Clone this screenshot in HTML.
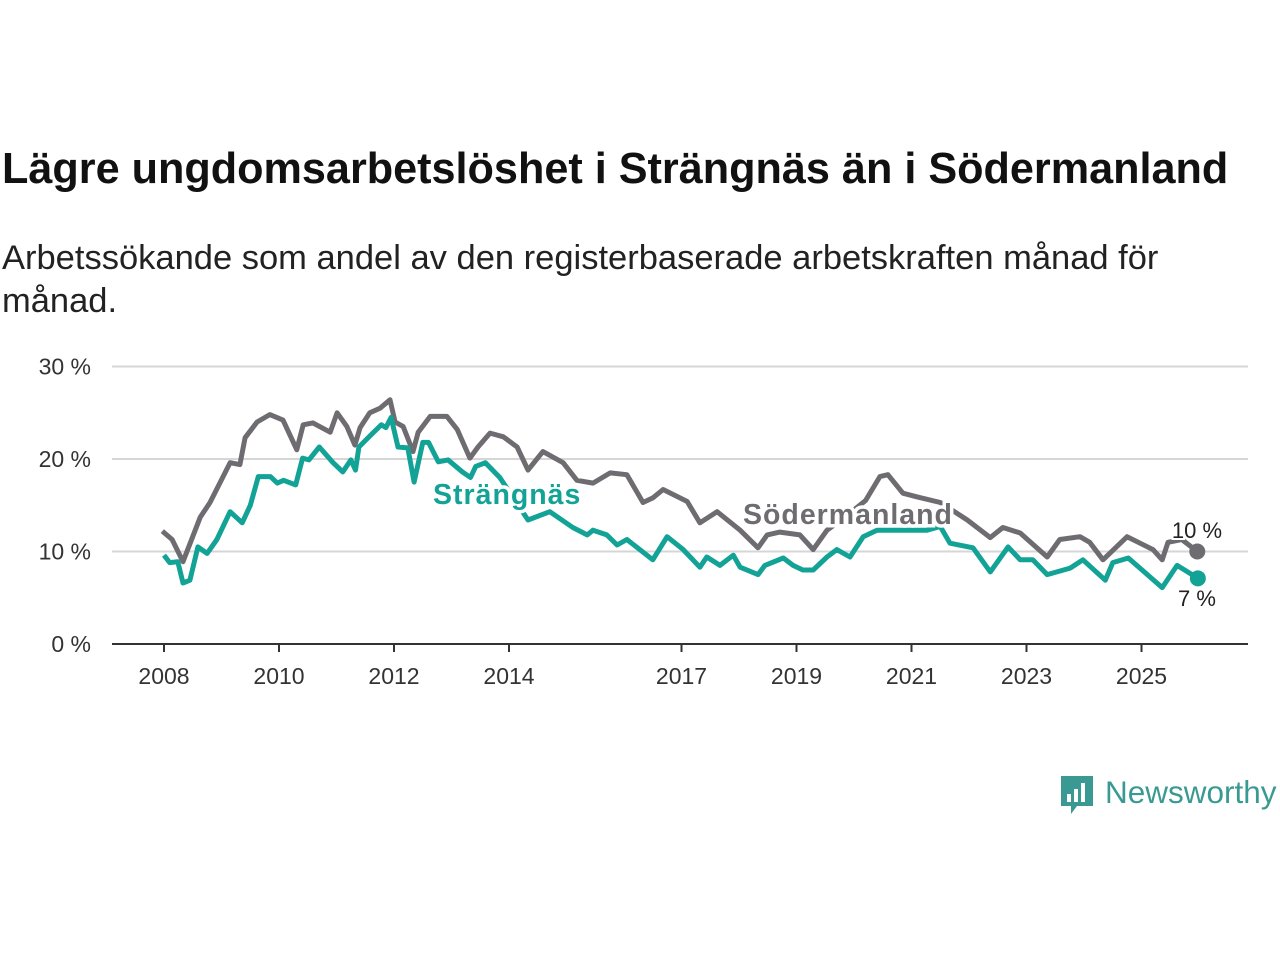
<!DOCTYPE html>
<html><head><meta charset="utf-8"><style>
body{margin:0;width:1280px;height:960px;background:#fff;font-family:"Liberation Sans",sans-serif;overflow:hidden;position:relative}
h1{position:absolute;left:2px;top:145px;margin:0;font-size:43.2px;font-weight:bold;color:#111;white-space:nowrap}
.sub{position:absolute;left:2px;top:237px;margin:0;font-size:34.5px;line-height:43px;color:#222;width:1220px}
</style></head><body>
<h1>Lägre ungdomsarbetslöshet i Strängnäs än i Södermanland</h1>
<p class="sub">Arbetssökande som andel av den registerbaserade arbetskraften månad för månad.</p>
<svg id="chart" width="1280" height="960" style="position:absolute;left:0;top:0"></svg>
<div style="position:absolute;left:1059px;top:774px;display:flex;align-items:center">
<svg width="36" height="44"><path d="M2 2h32v30h-16l-6 8v-8h-10z" fill="#3a9a93"/><rect x="8" y="20" width="4" height="8" fill="#fff"/><rect x="15" y="15" width="4" height="13" fill="#fff"/><rect x="22" y="9" width="4" height="19" fill="#fff"/></svg>
<span style="font-size:31.5px;color:#3a9a93;margin-left:10px;margin-top:-8px">Newsworthy</span></div>
<script>
const yTicks=[0,10,20,30];
const xTicks=[2008,2010,2012,2014,2017,2019,2021,2023,2025];
const sodDates=[2007.97,2008.14,2008.33,2008.63,2008.8,2009.15,2009.32,2009.41,2009.62,2009.84,2010.07,2010.31,2010.42,2010.59,2010.89,2011.01,2011.18,2011.32,2011.41,2011.58,2011.76,2011.93,2012.02,2012.16,2012.33,2012.42,2012.63,2012.92,2013.1,2013.32,2013.46,2013.67,2013.9,2014.14,2014.33,2014.59,2014.94,2015.18,2015.46,2015.76,2016.05,2016.33,2016.5,2016.68,2017.1,2017.32,2017.62,2018.02,2018.33,2018.49,2018.71,2019.06,2019.29,2019.53,2019.9,2020.2,2020.45,2020.59,2020.85,2021.1,2021.5,2021.97,2022.37,2022.59,2022.89,2023.36,2023.58,2023.93,2024.1,2024.33,2024.75,2025.2,2025.36,2025.46,2025.7,2025.97];
const sodVals=[12.2,11.3,8.9,13.7,15.3,19.6,19.4,22.3,24.0,24.8,24.2,21.0,23.7,23.9,22.9,25.0,23.5,21.5,23.4,25.0,25.5,26.4,24.0,23.5,20.8,22.9,24.6,24.6,23.2,20.1,21.3,22.8,22.4,21.3,18.8,20.8,19.6,17.7,17.4,18.5,18.3,15.3,15.8,16.7,15.4,13.1,14.3,12.3,10.4,11.8,12.1,11.8,10.2,12.3,14.0,15.5,18.1,18.3,16.3,15.9,15.3,13.4,11.5,12.6,12.0,9.4,11.3,11.6,11.0,9.1,11.6,10.2,9.1,11.0,11.3,10.0];
const strDates=[2008.0,2008.1,2008.24,2008.33,2008.45,2008.59,2008.75,2008.92,2009.15,2009.36,2009.5,2009.64,2009.85,2009.97,2010.08,2010.29,2010.41,2010.52,2010.7,2010.94,2011.11,2011.25,2011.33,2011.39,2011.6,2011.78,2011.86,2011.95,2012.07,2012.24,2012.35,2012.5,2012.6,2012.77,2012.94,2013.19,2013.33,2013.42,2013.59,2013.84,2014.33,2014.71,2015.11,2015.36,2015.46,2015.7,2015.88,2016.05,2016.5,2016.75,2017.03,2017.32,2017.44,2017.67,2017.9,2018.02,2018.33,2018.45,2018.77,2018.94,2019.11,2019.29,2019.53,2019.7,2019.93,2020.16,2020.4,2021.27,2021.5,2021.67,2022.07,2022.37,2022.68,2022.89,2023.11,2023.36,2023.76,2023.98,2024.37,2024.5,2024.77,2025.36,2025.62,2025.98];
const strVals=[9.6,8.8,8.9,6.6,6.9,10.5,9.8,11.3,14.3,13.1,15.0,18.1,18.1,17.4,17.7,17.2,20.1,19.9,21.3,19.6,18.6,19.9,18.8,21.3,22.6,23.7,23.4,24.5,21.3,21.2,17.5,21.8,21.8,19.7,19.9,18.6,18.0,19.2,19.6,18.0,13.4,14.3,12.6,11.8,12.3,11.8,10.7,11.3,9.1,11.6,10.2,8.3,9.4,8.5,9.6,8.3,7.5,8.5,9.3,8.5,8.0,8.0,9.4,10.2,9.4,11.6,12.3,12.3,12.7,10.9,10.4,7.8,10.5,9.1,9.1,7.5,8.2,9.1,6.9,8.8,9.3,6.1,8.5,7.1];
const NS='http://www.w3.org/2000/svg',svg=document.getElementById('chart');
const X=d=>164+(d-2008)*57.5, Y=v=>644-v*9.25;
function mk(t,a,p){const e=document.createElementNS(NS,t);for(const k in a)e.setAttribute(k,a[k]);(p||svg).appendChild(e);return e;}
yTicks.forEach(v=>{
 if(v>0){const g=mk('line',{x1:112,x2:1248,y1:Y(v),y2:Y(v),stroke:'#d6d6d6','stroke-width':2});
 
 }
 const t=mk('text',{x:91,y:Y(v)+8,'text-anchor':'end','font-size':23,fill:'#333'});t.textContent=v+' %';
 
 
});
const ax=mk('line',{x1:112,x2:1248,y1:644,y2:644,stroke:'#333','stroke-width':2});


xTicks.forEach(y=>{
 mk('line',{x1:X(y),x2:X(y),y1:644,y2:652,stroke:'#333','stroke-width':2});
 const t=mk('text',{x:X(y),y:684,'text-anchor':'middle','font-size':23,fill:'#333'});t.textContent=y;
 
 
});
function line(d,v,c,name){
 const p=mk('path',{d:d.map((x,i)=>(i?'L':'M')+X(x).toFixed(1)+' '+Y(v[i]).toFixed(1)).join(''),fill:'none',stroke:c,'stroke-width':5,'stroke-linejoin':'round'});
 
 
 const n=d.length-1,c2=mk('circle',{cx:X(d[n]),cy:Y(v[n]),r:8,fill:c});
 
 
}
line(sodDates,sodVals,'#6e6c71','sodermanland');
line(strDates,strVals,'#13a396','strangnas');
function lab(x,y,t,c,name,w,anchor){const e=mk('text',{x:x,y:y,'font-size':w?28.5:22,'font-weight':w?'bold':'normal',fill:c,stroke:'#fff','stroke-width':w?7:4,'paint-order':'stroke','text-anchor':anchor||'start','letter-spacing':w?1:0});e.textContent=t;
 
 }
lab(433,504,'Strängnäs','#13a396','strangnas-label',1);
lab(743,524,'Södermanland','#6e6c71','sodermanland-label',1);
lab(1197,538,'10 %','#222','sodermanland-end-value',0,'middle');
lab(1197,606,'7 %','#222','strangnas-end-value',0,'middle');
</script>
</body></html>
